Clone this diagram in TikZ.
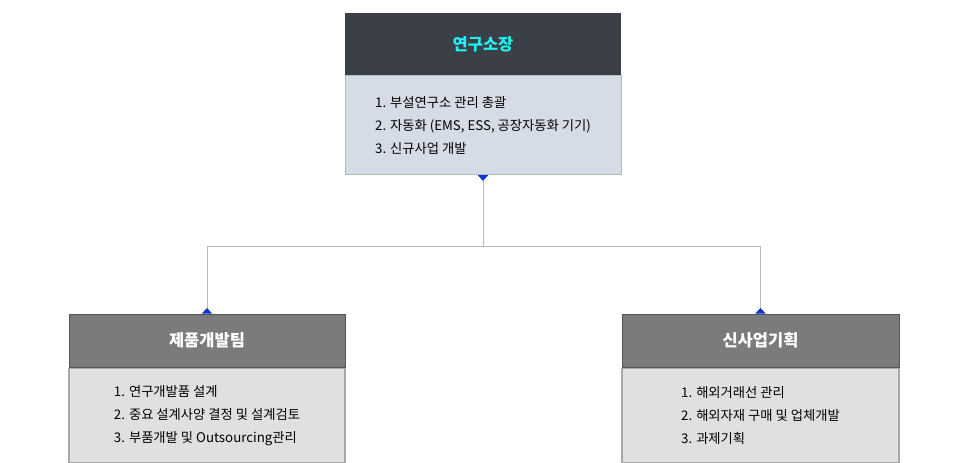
\documentclass[tikz,border=0pt]{standalone}
\usepackage{fontspec}
\setmainfont{Noto Sans CJK KR}
\usetikzlibrary{positioning,arrows.meta}

\definecolor{labhead}{HTML}{3B4048}
\definecolor{labbody}{HTML}{D5DCE6}
\definecolor{labline}{HTML}{B4BAC4}
\definecolor{teamhead}{HTML}{7B7B7B}
\definecolor{teamline}{HTML}{555555}
\definecolor{teambody}{HTML}{E0E0E0}
\definecolor{teamedge}{HTML}{A8A8A8}
\definecolor{titlecyan}{HTML}{22F2F2}
\definecolor{wire}{HTML}{BBBBBB}
\definecolor{marker}{HTML}{0A36D0}

\tikzset{
    headbox/.style={minimum width=276pt, inner sep=0pt, font=\fontsize{16.5}{20}\selectfont\bfseries},
    bodybox/.style={minimum width=276pt, inner sep=0pt, align=left, font=\fontsize{13.3}{23}\selectfont},
    wiring/.style={draw=wire, line width=0.9pt,
        {Triangle[reversed, width=10pt, length=5.5pt, color=marker]}-{Triangle[reversed, width=10pt, length=5.5pt, color=marker]}},
}

\begin{document}
\begin{tikzpicture}[x=1pt, y=-1pt]
        \useasboundingbox (0,0) rectangle (970,463);

        % top: research lab head
        \node[headbox, fill=labhead, text=titlecyan, minimum height=62pt] (lab) at (483,44) {연구소장};
        \node[bodybox, fill=labbody, draw=labline, line width=1pt, minimum height=99pt, below=0pt of lab] (labtext)
            {1. 부설연구소 관리 총괄\\2. 자동화 (EMS, ESS, 공장자동화 기기)\\3. 신규사업 개발};

        % left team
        \node[headbox, fill=teamhead, draw=teamline, line width=1pt, text=white, minimum height=53pt] (prod) at (207,340.5) {제품개발팀};
        \node[bodybox, fill=teambody, draw=teamedge, line width=1.4pt, minimum height=94pt, below=0pt of prod] (prodtext)
            {1. 연구개발품 설계\\2. 중요 설계사양 결정 및 설계검토\\3. 부품개발 및 Outsourcing관리};

        % right team
        \node[headbox, fill=teamhead, draw=teamline, line width=1pt, text=white, minimum width=277pt, minimum height=53pt] (biz) at (760.5,340.5) {신사업기획};
        \node[bodybox, fill=teambody, draw=teamedge, line width=1.4pt, minimum width=277pt, minimum height=94pt, below=0pt of biz] (biztext)
            {1. 해외거래선 관리\\2. 해외자재 구매 및 업체개발\\3. 과제기획};

        \coordinate (split) at (483,246);
        \draw[wiring] (labtext.south) -- (split) -| (prod.north);
        \draw[wiring] (labtext.south) -- (split) -| (biz.north);
    \end{tikzpicture}
\end{document}
